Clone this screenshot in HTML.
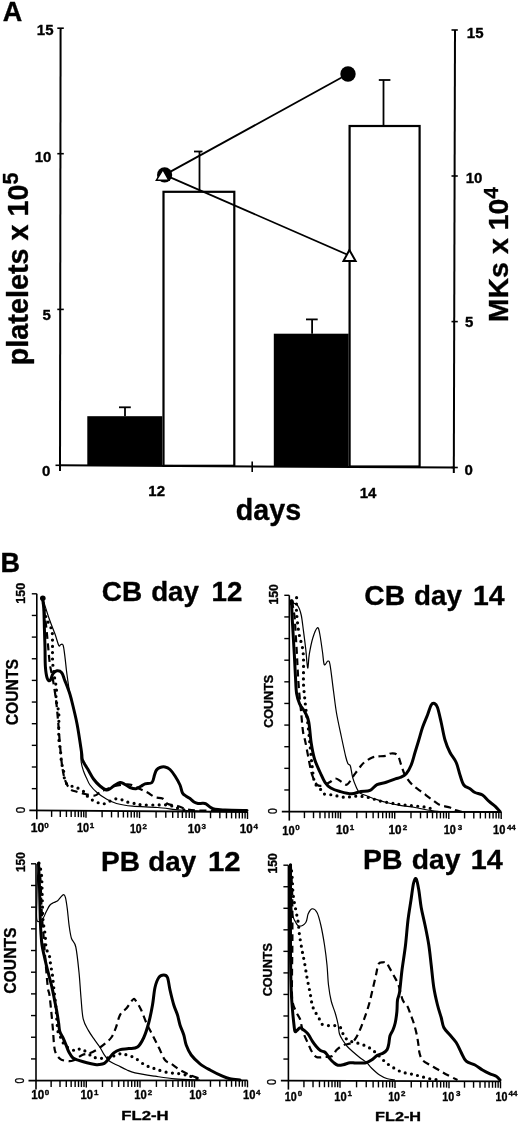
<!DOCTYPE html>
<html><head><meta charset="utf-8"><style>
html,body{margin:0;padding:0;background:#fff;}
body{width:520px;height:1124px;overflow:hidden;}
svg{display:block;will-change:transform;}
</style></head><body>
<svg width="520" height="1124" viewBox="0 0 520 1124" font-family='"Liberation Sans", sans-serif' font-weight="bold" fill="#000" stroke="#000">
<g stroke="none">
</g>
<text stroke="#000" stroke-width="0.35" stroke-linejoin="round" x="2.63" y="20.70" font-size="27">A</text>
<line x1="60.6" y1="28" x2="60.0" y2="471" stroke-width="2.0"/>
<line x1="57.3" y1="28.2" x2="63.8" y2="28.2" stroke-width="1.6"/>
<line x1="57.3" y1="153.7" x2="63.8" y2="153.7" stroke-width="1.6"/>
<line x1="57.3" y1="309.4" x2="63.8" y2="309.4" stroke-width="1.6"/>
<line x1="55.5" y1="465.3" x2="60.5" y2="465.3" stroke-width="1.6"/>
<text stroke="#000" stroke-width="0.35" stroke-linejoin="round" x="36.8" y="35.3" font-size="15" text-anchor="start" >15</text>
<text stroke="#000" stroke-width="0.35" stroke-linejoin="round" x="34.7" y="162.2" font-size="15" text-anchor="start" >10</text>
<text stroke="#000" stroke-width="0.35" stroke-linejoin="round" x="42.4" y="319.8" font-size="15" text-anchor="start" >5</text>
<text stroke="#000" stroke-width="0.35" stroke-linejoin="round" x="41.9" y="475.6" font-size="15" text-anchor="start" >0</text>
<line x1="455.0" y1="30" x2="453.8" y2="473" stroke-width="2.0"/>
<line x1="451.5" y1="30.0" x2="457.8" y2="30.0" stroke-width="1.6"/>
<line x1="451.5" y1="176.0" x2="457.8" y2="176.0" stroke-width="1.6"/>
<line x1="451.5" y1="321.6" x2="457.8" y2="321.6" stroke-width="1.6"/>
<line x1="451.5" y1="467.5" x2="457.8" y2="467.5" stroke-width="1.6"/>
<text stroke="#000" stroke-width="0.35" stroke-linejoin="round" x="466.8" y="37.5" font-size="15" text-anchor="start" >15</text>
<text stroke="#000" stroke-width="0.35" stroke-linejoin="round" x="465.7" y="182.8" font-size="15" text-anchor="start" >10</text>
<text stroke="#000" stroke-width="0.35" stroke-linejoin="round" x="464.9" y="327.2" font-size="15" text-anchor="start" >5</text>
<text stroke="#000" stroke-width="0.35" stroke-linejoin="round" x="464.4" y="474.6" font-size="15" text-anchor="start" >0</text>
<line x1="59.5" y1="465.3" x2="454.5" y2="467.6" stroke-width="2.0"/>
<line x1="252.2" y1="461.5" x2="252.2" y2="472" stroke-width="1.6"/>
<rect x="87.3" y="416.2" width="75" height="49.6" fill="#000" stroke="none"/>
<rect x="273.8" y="333.7" width="74.8" height="132.5" fill="#000" stroke="none"/>
<rect x="163.5" y="191.8" width="70.8" height="274" fill="none" stroke-width="2.2"/>
<rect x="349.6" y="126" width="70" height="340.5" fill="none" stroke-width="2.2"/>
<line x1="125" y1="407.3" x2="125" y2="416.2" stroke-width="1.8"/>
<line x1="119" y1="407.3" x2="130.8" y2="407.3" stroke-width="1.8"/>
<line x1="199.5" y1="151.5" x2="199.5" y2="191" stroke-width="1.8"/>
<line x1="194" y1="151.5" x2="202.5" y2="151.5" stroke-width="1.8"/>
<line x1="312.1" y1="319.4" x2="312.1" y2="333.7" stroke-width="1.8"/>
<line x1="306" y1="319.4" x2="317.7" y2="319.4" stroke-width="1.8"/>
<line x1="383.5" y1="80" x2="383.5" y2="125" stroke-width="1.8"/>
<line x1="378.8" y1="80" x2="390.4" y2="80" stroke-width="1.8"/>
<line x1="164.6" y1="174.9" x2="348" y2="74" stroke-width="1.8"/>
<line x1="164.6" y1="174.9" x2="349.4" y2="255.5" stroke-width="1.8"/>
<circle cx="348" cy="74" r="7.7" fill="#000" stroke="none"/>
<circle cx="164.6" cy="174.9" r="7.6" fill="#000" stroke="none"/>
<polygon points="162.9,169.6 156.4,180.2 168.8,180.2" fill="#fff" stroke-width="1.5" stroke-linejoin="miter"/>
<polygon points="349.4,250 343.5,261 355.6,261" fill="#fff" stroke-width="2" stroke-linejoin="miter"/>
<text stroke="#000" stroke-width="0.35" stroke-linejoin="round" x="148.3" y="495.8" font-size="15" text-anchor="start" >12</text>
<text stroke="#000" stroke-width="0.35" stroke-linejoin="round" x="359.7" y="497.5" font-size="15" text-anchor="start" >14</text>
<text stroke="#000" stroke-width="0.35" stroke-linejoin="round" x="235.82" y="519.70" font-size="29" textLength="65.35" lengthAdjust="spacingAndGlyphs">days</text>
<text stroke="#000" stroke-width="0.35" stroke-linejoin="round" transform="translate(28.4,365.2) rotate(-90)" font-size="28.75">platelets x 10<tspan font-size="21.5" dy="-10.3">5</tspan></text>
<text stroke="#000" stroke-width="0.35" stroke-linejoin="round" transform="translate(508,322.2) rotate(-90)" font-size="28.5">MKs x 10<tspan font-size="21" dy="-10.3">4</tspan></text>
<text stroke="#000" stroke-width="0.35" stroke-linejoin="round" x="0.49" y="572.00" font-size="27">B</text>
<line x1="36.8" y1="593.8" x2="36.8" y2="819.3" stroke-width="1.6"/>
<line x1="31.799999999999997" y1="593.8" x2="36.8" y2="593.8" stroke-width="1.4"/>
<line x1="31.799999999999997" y1="615.4499999999999" x2="36.8" y2="615.4499999999999" stroke-width="1.4"/>
<line x1="31.799999999999997" y1="637.0999999999999" x2="36.8" y2="637.0999999999999" stroke-width="1.4"/>
<line x1="31.799999999999997" y1="658.75" x2="36.8" y2="658.75" stroke-width="1.4"/>
<line x1="31.799999999999997" y1="680.4" x2="36.8" y2="680.4" stroke-width="1.4"/>
<line x1="31.799999999999997" y1="702.05" x2="36.8" y2="702.05" stroke-width="1.4"/>
<line x1="31.799999999999997" y1="723.6999999999999" x2="36.8" y2="723.6999999999999" stroke-width="1.4"/>
<line x1="31.799999999999997" y1="745.3499999999999" x2="36.8" y2="745.3499999999999" stroke-width="1.4"/>
<line x1="31.799999999999997" y1="767.0" x2="36.8" y2="767.0" stroke-width="1.4"/>
<line x1="31.799999999999997" y1="788.65" x2="36.8" y2="788.65" stroke-width="1.4"/>
<line x1="29.299999999999997" y1="810.3" x2="247.5" y2="812" stroke-width="1.8"/>
<line x1="86" y1="810.6969625059326" x2="86" y2="817.6969625059326" stroke-width="1.4"/>
<line x1="102.105104768023" y1="810.826904025181" x2="102.105104768023" y2="817.326904025181" stroke-width="1.4"/>
<line x1="111.52598712750193" y1="810.902914941228" x2="111.52598712750193" y2="817.402914941228" stroke-width="1.4"/>
<line x1="118.210209536046" y1="810.9568455444294" x2="118.210209536046" y2="817.4568455444294" stroke-width="1.4"/>
<line x1="123.39489523197702" y1="810.9986773701678" x2="123.39489523197702" y2="817.4986773701678" stroke-width="1.4"/>
<line x1="127.63109189552493" y1="811.0328564604764" x2="127.63109189552493" y2="817.5328564604764" stroke-width="1.4"/>
<line x1="131.21274514076273" y1="811.0617544695742" x2="131.21274514076273" y2="817.5617544695742" stroke-width="1.4"/>
<line x1="134.31531430406898" y1="811.0867870636778" x2="134.31531430406898" y2="817.5867870636778" stroke-width="1.4"/>
<line x1="137.05197425500387" y1="811.1088673765234" x2="137.05197425500387" y2="817.6088673765234" stroke-width="1.4"/>
<line x1="139.5" y1="811.1286188894162" x2="139.5" y2="818.1286188894162" stroke-width="1.4"/>
<line x1="156.08675276108536" y1="811.2624465101749" x2="156.08675276108536" y2="817.7624465101749" stroke-width="1.4"/>
<line x1="165.7893811350534" y1="811.3407306498793" x2="165.7893811350534" y2="817.8407306498793" stroke-width="1.4"/>
<line x1="172.67350552217073" y1="811.3962741309335" x2="172.67350552217073" y2="817.8962741309335" stroke-width="1.4"/>
<line x1="178.01324723891463" y1="811.4393570019276" x2="178.01324723891463" y2="817.9393570019276" stroke-width="1.4"/>
<line x1="182.37613389613875" y1="811.474558270638" x2="182.37613389613875" y2="817.974558270638" stroke-width="1.4"/>
<line x1="186.06490200478555" y1="811.5043205192602" x2="186.06490200478555" y2="818.0043205192602" stroke-width="1.4"/>
<line x1="189.2602582832561" y1="811.5301017516921" x2="189.2602582832561" y2="818.0301017516921" stroke-width="1.4"/>
<line x1="192.07876227010678" y1="811.5528424103426" x2="192.07876227010678" y2="818.0528424103426" stroke-width="1.4"/>
<line x1="194.6" y1="811.5731846226863" x2="194.6" y2="818.5731846226863" stroke-width="1.4"/>
<line x1="210.5244867706246" y1="811.7016688538683" x2="210.5244867706246" y2="818.2016688538683" stroke-width="1.4"/>
<line x1="219.83971437467014" y1="811.7768273110438" x2="219.83971437467014" y2="818.2768273110438" stroke-width="1.4"/>
<line x1="226.44897354124922" y1="811.8301530850504" x2="226.44897354124922" y2="818.3301530850504" stroke-width="1.4"/>
<line x1="231.5755132293754" y1="811.871515768818" x2="231.5755132293754" y2="818.371515768818" stroke-width="1.4"/>
<line x1="235.76420114529475" y1="811.905311542226" x2="235.76420114529475" y2="818.405311542226" stroke-width="1.4"/>
<line x1="239.3056863167542" y1="811.9338854615021" x2="239.3056863167542" y2="818.4338854615021" stroke-width="1.4"/>
<line x1="242.37346031187383" y1="811.9586373162325" x2="242.37346031187383" y2="818.4586373162325" stroke-width="1.4"/>
<line x1="245.07942874934028" y1="811.9804699994014" x2="245.07942874934028" y2="818.4804699994014" stroke-width="1.4"/>
<line x1="247.5" y1="812.0" x2="247.5" y2="819.0" stroke-width="1.4"/>
<line x1="51.61067578666787" y1="810.4194976214396" x2="51.61067578666787" y2="816.9194976214396" stroke-width="1.4"/>
<line x1="60.274365732207386" y1="810.4893992489071" x2="60.274365732207386" y2="816.9893992489071" stroke-width="1.4"/>
<line x1="66.42135157333576" y1="810.5389952428793" x2="66.42135157333576" y2="817.0389952428793" stroke-width="1.4"/>
<line x1="71.18932421333213" y1="810.5774648844929" x2="71.18932421333213" y2="817.0774648844929" stroke-width="1.4"/>
<line x1="75.08504151887527" y1="810.6088968703468" x2="75.08504151887527" y2="817.1088968703468" stroke-width="1.4"/>
<line x1="78.37882356870143" y1="810.6354722357228" x2="78.37882356870143" y2="817.1354722357228" stroke-width="1.4"/>
<line x1="81.23202736000363" y1="810.658492864319" x2="81.23202736000363" y2="817.158492864319" stroke-width="1.4"/>
<line x1="83.74873146441479" y1="810.6787984978145" x2="83.74873146441479" y2="817.1787984978145" stroke-width="1.4"/>
<text stroke="#000" stroke-width="0.35" stroke-linejoin="round" transform="translate(25.48,603.79) rotate(-90)" font-size="12.5" textLength="20.90" lengthAdjust="spacingAndGlyphs">150</text>
<text stroke="#000" stroke-width="0.35" stroke-linejoin="round" transform="translate(25.28,813.25) rotate(-90)" font-size="12" textLength="6.40" lengthAdjust="spacingAndGlyphs" font-weight="normal">0</text>
<text stroke="#000" stroke-width="0.35" stroke-linejoin="round" transform="translate(17.64,725.24) rotate(-90)" font-size="16" textLength="66.15" lengthAdjust="spacingAndGlyphs">COUNTS</text>
<text stroke="#000" stroke-width="0.35" stroke-linejoin="round" x="30.74" y="832.00" font-size="12" textLength="13.46" lengthAdjust="spacingAndGlyphs">10</text>
<text stroke="#000" stroke-width="0.35" stroke-linejoin="round" x="44.18" y="827.90" font-size="8">0</text>
<text stroke="#000" stroke-width="0.35" stroke-linejoin="round" x="76.91" y="832.30" font-size="12" textLength="12.13" lengthAdjust="spacingAndGlyphs">10</text>
<text stroke="#000" stroke-width="0.35" stroke-linejoin="round" x="89.70" y="828.20" font-size="8">1</text>
<text stroke="#000" stroke-width="0.35" stroke-linejoin="round" x="130.04" y="833.20" font-size="12" textLength="11.69" lengthAdjust="spacingAndGlyphs">10</text>
<text stroke="#000" stroke-width="0.35" stroke-linejoin="round" x="142.42" y="829.10" font-size="8">2</text>
<text stroke="#000" stroke-width="0.35" stroke-linejoin="round" x="187.87" y="833.20" font-size="12" textLength="12.91" lengthAdjust="spacingAndGlyphs">10</text>
<text stroke="#000" stroke-width="0.35" stroke-linejoin="round" x="201.42" y="829.10" font-size="8">3</text>
<text stroke="#000" stroke-width="0.35" stroke-linejoin="round" x="239.87" y="833.40" font-size="12" textLength="12.91" lengthAdjust="spacingAndGlyphs">10</text>
<text stroke="#000" stroke-width="0.35" stroke-linejoin="round" x="253.48" y="829.30" font-size="8">4</text>
<text stroke="#000" stroke-width="0.35" stroke-linejoin="round" x="101.85" y="600.80" font-size="27.5" textLength="40.42" lengthAdjust="spacingAndGlyphs">CB</text>
<text stroke="#000" stroke-width="0.35" stroke-linejoin="round" x="151.16" y="600.80" font-size="27.5" textLength="47.79" lengthAdjust="spacingAndGlyphs">day</text>
<text stroke="#000" stroke-width="0.35" stroke-linejoin="round" x="211.55" y="600.80" font-size="27.5" textLength="30.86" lengthAdjust="spacingAndGlyphs">12</text>
<line x1="289.3" y1="595.3" x2="289.3" y2="820.6" stroke-width="1.6"/>
<line x1="284.3" y1="595.3" x2="289.3" y2="595.3" stroke-width="1.4"/>
<line x1="284.3" y1="616.93" x2="289.3" y2="616.93" stroke-width="1.4"/>
<line x1="284.3" y1="638.56" x2="289.3" y2="638.56" stroke-width="1.4"/>
<line x1="284.3" y1="660.1899999999999" x2="289.3" y2="660.1899999999999" stroke-width="1.4"/>
<line x1="284.3" y1="681.8199999999999" x2="289.3" y2="681.8199999999999" stroke-width="1.4"/>
<line x1="284.3" y1="703.45" x2="289.3" y2="703.45" stroke-width="1.4"/>
<line x1="284.3" y1="725.0799999999999" x2="289.3" y2="725.0799999999999" stroke-width="1.4"/>
<line x1="284.3" y1="746.71" x2="289.3" y2="746.71" stroke-width="1.4"/>
<line x1="284.3" y1="768.34" x2="289.3" y2="768.34" stroke-width="1.4"/>
<line x1="284.3" y1="789.97" x2="289.3" y2="789.97" stroke-width="1.4"/>
<line x1="281.8" y1="811.6" x2="501.2" y2="812.0" stroke-width="1.8"/>
<line x1="340.5" y1="811.696649362907" x2="340.5" y2="818.696649362907" stroke-width="1.4"/>
<line x1="356.8158257649878" y1="811.7274484677017" x2="356.8158257649878" y2="818.2274484677017" stroke-width="1.4"/>
<line x1="366.3599720058057" y1="811.7454647890625" x2="366.3599720058057" y2="818.2454647890625" stroke-width="1.4"/>
<line x1="373.13165152997556" y1="811.7582475724964" x2="373.13165152997556" y2="818.2582475724964" stroke-width="1.4"/>
<line x1="378.3841742350122" y1="811.7681626696273" x2="378.3841742350122" y2="818.2681626696273" stroke-width="1.4"/>
<line x1="382.67579777079345" y1="811.776263893857" x2="382.67579777079345" y2="818.276263893857" stroke-width="1.4"/>
<line x1="386.3043137687727" y1="811.7831133813473" x2="386.3043137687727" y2="818.2831133813473" stroke-width="1.4"/>
<line x1="389.44747729496333" y1="811.7890466772911" x2="389.44747729496333" y2="818.2890466772911" stroke-width="1.4"/>
<line x1="392.2199440116114" y1="811.7942802152178" x2="392.2199440116114" y2="818.2942802152178" stroke-width="1.4"/>
<line x1="394.7" y1="811.7989617744219" x2="394.7" y2="818.7989617744219" stroke-width="1.4"/>
<line x1="410.9857227654214" y1="811.8297040543" x2="410.9857227654214" y2="818.3297040543" stroke-width="1.4"/>
<line x1="420.5122598803337" y1="811.8476871352153" x2="420.5122598803337" y2="818.3476871352153" stroke-width="1.4"/>
<line x1="427.27144553084275" y1="811.860446334178" x2="427.27144553084275" y2="818.360446334178" stroke-width="1.4"/>
<line x1="432.5142772345786" y1="811.8703431377718" x2="432.5142772345786" y2="818.3703431377718" stroke-width="1.4"/>
<line x1="436.79798264575516" y1="811.8784294150935" x2="436.79798264575516" y2="818.3784294150935" stroke-width="1.4"/>
<line x1="440.4198039647713" y1="811.885266265153" x2="440.4198039647713" y2="818.385266265153" stroke-width="1.4"/>
<line x1="443.55716829626414" y1="811.8911886140562" x2="443.55716829626414" y2="818.3911886140562" stroke-width="1.4"/>
<line x1="446.3245197606675" y1="811.8964124960088" x2="446.3245197606675" y2="818.3964124960088" stroke-width="1.4"/>
<line x1="448.8" y1="811.9010854176498" x2="448.8" y2="818.9010854176498" stroke-width="1.4"/>
<line x1="464.5739717727926" y1="811.9308616739459" x2="464.5739717727926" y2="818.4308616739459" stroke-width="1.4"/>
<line x1="473.8011537473103" y1="811.9482796672909" x2="473.8011537473103" y2="818.4482796672909" stroke-width="1.4"/>
<line x1="480.3479435455852" y1="811.9606379302418" x2="480.3479435455852" y2="818.4606379302418" stroke-width="1.4"/>
<line x1="485.4260282272074" y1="811.9702237437041" x2="485.4260282272074" y2="818.4702237437041" stroke-width="1.4"/>
<line x1="489.5751255201029" y1="811.9780559235868" x2="489.5751255201029" y2="818.4780559235868" stroke-width="1.4"/>
<line x1="493.08313729674705" y1="811.9846779373228" x2="493.08313729674705" y2="818.4846779373228" stroke-width="1.4"/>
<line x1="496.12191531837783" y1="811.9904141865378" x2="496.12191531837783" y2="818.4904141865378" stroke-width="1.4"/>
<line x1="498.8023074946206" y1="811.9954739169318" x2="498.8023074946206" y2="818.4954739169318" stroke-width="1.4"/>
<line x1="501.2" y1="812.0" x2="501.2" y2="819.0" stroke-width="1.4"/>
<line x1="304.4331477762614" y1="811.6285665838155" x2="304.4331477762614" y2="818.1285665838155" stroke-width="1.4"/>
<line x1="313.5194567435346" y1="811.645718653598" x2="313.5194567435346" y2="818.145718653598" stroke-width="1.4"/>
<line x1="319.96629555252287" y1="811.6578882407787" x2="319.96629555252287" y2="818.1578882407787" stroke-width="1.4"/>
<line x1="324.96685222373856" y1="811.6673277059439" x2="324.96685222373856" y2="818.1673277059439" stroke-width="1.4"/>
<line x1="329.052604519796" y1="811.6750403105613" x2="329.052604519796" y2="818.1750403105613" stroke-width="1.4"/>
<line x1="332.50705886473565" y1="811.6815612248508" x2="332.50705886473565" y2="818.1815612248508" stroke-width="1.4"/>
<line x1="335.4994433287843" y1="811.6872098977419" x2="335.4994433287843" y2="818.1872098977419" stroke-width="1.4"/>
<line x1="338.13891348706915" y1="811.6921923803437" x2="338.13891348706915" y2="818.1921923803437" stroke-width="1.4"/>
<text stroke="#000" stroke-width="0.35" stroke-linejoin="round" transform="translate(278.38,604.57) rotate(-90)" font-size="12.5" textLength="20.48" lengthAdjust="spacingAndGlyphs">150</text>
<text stroke="#000" stroke-width="0.35" stroke-linejoin="round" transform="translate(277.18,813.91) rotate(-90)" font-size="12" textLength="5.82" lengthAdjust="spacingAndGlyphs" font-weight="normal">0</text>
<text stroke="#000" stroke-width="0.35" stroke-linejoin="round" transform="translate(273.07,727.81) rotate(-90)" font-size="13" textLength="53.01" lengthAdjust="spacingAndGlyphs">COUNTS</text>
<text stroke="#000" stroke-width="0.35" stroke-linejoin="round" x="282.30" y="834.50" font-size="12" textLength="12.36" lengthAdjust="spacingAndGlyphs">10</text>
<text stroke="#000" stroke-width="0.35" stroke-linejoin="round" x="295.18" y="830.40" font-size="8">0</text>
<text stroke="#000" stroke-width="0.35" stroke-linejoin="round" x="335.97" y="834.20" font-size="12" textLength="12.91" lengthAdjust="spacingAndGlyphs">10</text>
<text stroke="#000" stroke-width="0.35" stroke-linejoin="round" x="349.80" y="830.10" font-size="8">1</text>
<text stroke="#000" stroke-width="0.35" stroke-linejoin="round" x="388.46" y="834.00" font-size="12" textLength="13.02" lengthAdjust="spacingAndGlyphs">10</text>
<text stroke="#000" stroke-width="0.35" stroke-linejoin="round" x="402.72" y="829.90" font-size="8">2</text>
<text stroke="#000" stroke-width="0.35" stroke-linejoin="round" x="443.81" y="833.80" font-size="12" textLength="12.13" lengthAdjust="spacingAndGlyphs">10</text>
<text stroke="#000" stroke-width="0.35" stroke-linejoin="round" x="457.82" y="829.70" font-size="8">3</text>
<text stroke="#000" stroke-width="0.35" stroke-linejoin="round" x="493.10" y="833.80" font-size="12" textLength="12.36" lengthAdjust="spacingAndGlyphs">10</text>
<text stroke="#000" stroke-width="0.35" stroke-linejoin="round" x="506.88" y="829.70" font-size="8">44</text>
<text stroke="#000" stroke-width="0.35" stroke-linejoin="round" x="364.34" y="605.00" font-size="27.5" textLength="40.84" lengthAdjust="spacingAndGlyphs">CB</text>
<text stroke="#000" stroke-width="0.35" stroke-linejoin="round" x="414.06" y="605.00" font-size="27.5" textLength="47.79" lengthAdjust="spacingAndGlyphs">day</text>
<text stroke="#000" stroke-width="0.35" stroke-linejoin="round" x="473.01" y="605.00" font-size="27.5" textLength="31.54" lengthAdjust="spacingAndGlyphs">14</text>
<line x1="36" y1="863.8" x2="36" y2="1089.6" stroke-width="1.6"/>
<line x1="31" y1="863.8" x2="36" y2="863.8" stroke-width="1.4"/>
<line x1="31" y1="885.4799999999999" x2="36" y2="885.4799999999999" stroke-width="1.4"/>
<line x1="31" y1="907.16" x2="36" y2="907.16" stroke-width="1.4"/>
<line x1="31" y1="928.8399999999999" x2="36" y2="928.8399999999999" stroke-width="1.4"/>
<line x1="31" y1="950.52" x2="36" y2="950.52" stroke-width="1.4"/>
<line x1="31" y1="972.1999999999999" x2="36" y2="972.1999999999999" stroke-width="1.4"/>
<line x1="31" y1="993.8799999999999" x2="36" y2="993.8799999999999" stroke-width="1.4"/>
<line x1="31" y1="1015.56" x2="36" y2="1015.56" stroke-width="1.4"/>
<line x1="31" y1="1037.24" x2="36" y2="1037.24" stroke-width="1.4"/>
<line x1="31" y1="1058.9199999999998" x2="36" y2="1058.9199999999998" stroke-width="1.4"/>
<line x1="28.5" y1="1080.6" x2="247.5" y2="1080.3" stroke-width="1.8"/>
<line x1="86.3" y1="1080.5286524822695" x2="86.3" y2="1087.5286524822695" stroke-width="1.4"/>
<line x1="102.46531076715578" y1="1080.5057229634508" x2="102.46531076715578" y2="1087.0057229634508" stroke-width="1.4"/>
<line x1="111.92141137844587" y1="1080.4923100547824" x2="111.92141137844587" y2="1086.9923100547824" stroke-width="1.4"/>
<line x1="118.63062153431159" y1="1080.482793444632" x2="118.63062153431159" y2="1086.982793444632" stroke-width="1.4"/>
<line x1="123.83468923284421" y1="1080.4754117883222" x2="123.83468923284421" y2="1086.9754117883222" stroke-width="1.4"/>
<line x1="128.08672214560167" y1="1080.4693805359636" x2="128.08672214560167" y2="1086.9693805359636" stroke-width="1.4"/>
<line x1="131.6817647487656" y1="1080.4642811847534" x2="131.6817647487656" y2="1086.9642811847534" stroke-width="1.4"/>
<line x1="134.79593230146736" y1="1080.4598639258134" x2="134.79593230146736" y2="1086.9598639258134" stroke-width="1.4"/>
<line x1="137.54282275689175" y1="1080.4559676272952" x2="137.54282275689175" y2="1086.9559676272952" stroke-width="1.4"/>
<line x1="140" y1="1080.4524822695034" x2="140" y2="1087.4524822695034" stroke-width="1.4"/>
<line x1="156.40613476368696" y1="1080.4292111563634" x2="156.40613476368696" y2="1086.9292111563634" stroke-width="1.4"/>
<line x1="166.0031083822216" y1="1080.4155984278266" x2="166.0031083822216" y2="1086.9155984278266" stroke-width="1.4"/>
<line x1="172.81226952737396" y1="1080.4059400432236" x2="172.81226952737396" y2="1086.9059400432236" stroke-width="1.4"/>
<line x1="178.09386523631304" y1="1080.3984484181044" x2="178.09386523631304" y2="1086.8984484181044" stroke-width="1.4"/>
<line x1="182.4092431459086" y1="1080.3923273146866" x2="182.4092431459086" y2="1086.8923273146866" stroke-width="1.4"/>
<line x1="186.057843180777" y1="1080.3871519954882" x2="186.057843180777" y2="1086.8871519954882" stroke-width="1.4"/>
<line x1="189.21840429106092" y1="1080.3826689300836" x2="189.21840429106092" y2="1086.8826689300836" stroke-width="1.4"/>
<line x1="192.0062167644432" y1="1080.3787145861497" x2="192.0062167644432" y2="1086.8787145861497" stroke-width="1.4"/>
<line x1="194.5" y1="1080.3751773049644" x2="194.5" y2="1087.3751773049644" stroke-width="1.4"/>
<line x1="210.454589770191" y1="1080.352546681177" x2="210.454589770191" y2="1086.852546681177" stroke-width="1.4"/>
<line x1="219.78742650014212" y1="1080.3393086148933" x2="219.78742650014212" y2="1086.8393086148933" stroke-width="1.4"/>
<line x1="226.409179540382" y1="1080.3299160573895" x2="226.409179540382" y2="1086.8299160573895" stroke-width="1.4"/>
<line x1="231.545410229809" y1="1080.3226306237875" x2="231.545410229809" y2="1086.8226306237875" stroke-width="1.4"/>
<line x1="235.74201627033312" y1="1080.316677991106" x2="235.74201627033312" y2="1086.816677991106" stroke-width="1.4"/>
<line x1="239.2901961207556" y1="1080.3116451118854" x2="239.2901961207556" y2="1086.8116451118854" stroke-width="1.4"/>
<line x1="242.363769310573" y1="1080.307285433602" x2="242.363769310573" y2="1086.807285433602" stroke-width="1.4"/>
<line x1="245.07485300028424" y1="1080.3034399248222" x2="245.07485300028424" y2="1086.8034399248222" stroke-width="1.4"/>
<line x1="247.5" y1="1080.3" x2="247.5" y2="1087.3" stroke-width="1.4"/>
<line x1="51.141808781898256" y1="1080.5785222570469" x2="51.141808781898256" y2="1087.0785222570469" stroke-width="1.4"/>
<line x1="59.99919911239902" y1="1080.5659585828191" x2="59.99919911239902" y2="1087.0659585828191" stroke-width="1.4"/>
<line x1="66.28361756379651" y1="1080.5570445140938" x2="66.28361756379651" y2="1087.0570445140938" stroke-width="1.4"/>
<line x1="71.15819121810175" y1="1080.5501302252226" x2="71.15819121810175" y2="1087.0501302252226" stroke-width="1.4"/>
<line x1="75.14100789429727" y1="1080.544480839866" x2="75.14100789429727" y2="1087.044480839866" stroke-width="1.4"/>
<line x1="78.50843141271712" y1="1080.539704352606" x2="78.50843141271712" y2="1087.039704352606" stroke-width="1.4"/>
<line x1="81.42542634569476" y1="1080.5355667711408" x2="81.42542634569476" y2="1087.0355667711408" stroke-width="1.4"/>
<line x1="83.99839822479804" y1="1080.5319171656386" x2="83.99839822479804" y2="1087.0319171656386" stroke-width="1.4"/>
<text stroke="#000" stroke-width="0.35" stroke-linejoin="round" transform="translate(25.38,872.05) rotate(-90)" font-size="12.5" textLength="19.94" lengthAdjust="spacingAndGlyphs">150</text>
<text stroke="#000" stroke-width="0.35" stroke-linejoin="round" transform="translate(23.68,1083.50) rotate(-90)" font-size="12" textLength="5.70" lengthAdjust="spacingAndGlyphs" font-weight="normal">0</text>
<text stroke="#000" stroke-width="0.35" stroke-linejoin="round" transform="translate(16.34,993.74) rotate(-90)" font-size="16" textLength="66.26" lengthAdjust="spacingAndGlyphs">COUNTS</text>
<text stroke="#000" stroke-width="0.35" stroke-linejoin="round" x="31.27" y="1098.80" font-size="12" textLength="12.91" lengthAdjust="spacingAndGlyphs">10</text>
<text stroke="#000" stroke-width="0.35" stroke-linejoin="round" x="44.68" y="1094.70" font-size="8">0</text>
<text stroke="#000" stroke-width="0.35" stroke-linejoin="round" x="80.49" y="1098.80" font-size="12" textLength="12.47" lengthAdjust="spacingAndGlyphs">10</text>
<text stroke="#000" stroke-width="0.35" stroke-linejoin="round" x="94.00" y="1094.70" font-size="8">1</text>
<text stroke="#000" stroke-width="0.35" stroke-linejoin="round" x="134.29" y="1099.00" font-size="12" textLength="12.47" lengthAdjust="spacingAndGlyphs">10</text>
<text stroke="#000" stroke-width="0.35" stroke-linejoin="round" x="147.72" y="1094.90" font-size="8">2</text>
<text stroke="#000" stroke-width="0.35" stroke-linejoin="round" x="189.30" y="1099.00" font-size="12" textLength="12.36" lengthAdjust="spacingAndGlyphs">10</text>
<text stroke="#000" stroke-width="0.35" stroke-linejoin="round" x="202.32" y="1094.90" font-size="8">3</text>
<text stroke="#000" stroke-width="0.35" stroke-linejoin="round" x="242.99" y="1099.00" font-size="12" textLength="12.47" lengthAdjust="spacingAndGlyphs">10</text>
<text stroke="#000" stroke-width="0.35" stroke-linejoin="round" x="256.08" y="1094.90" font-size="8">4</text>
<text stroke="#000" stroke-width="0.35" stroke-linejoin="round" x="101.12" y="871.30" font-size="27.5" textLength="38.95" lengthAdjust="spacingAndGlyphs">PB</text>
<text stroke="#000" stroke-width="0.35" stroke-linejoin="round" x="148.36" y="871.30" font-size="27.5" textLength="47.79" lengthAdjust="spacingAndGlyphs">day</text>
<text stroke="#000" stroke-width="0.35" stroke-linejoin="round" x="207.95" y="871.30" font-size="27.5" textLength="32.62" lengthAdjust="spacingAndGlyphs">12</text>
<text stroke="#000" stroke-width="0.35" stroke-linejoin="round" x="121.18" y="1120.00" font-size="13.5" textLength="47.45" lengthAdjust="spacingAndGlyphs">FL2-H</text>
<line x1="288.4" y1="865.2" x2="288.4" y2="1089.6" stroke-width="1.6"/>
<line x1="283.4" y1="865.2" x2="288.4" y2="865.2" stroke-width="1.4"/>
<line x1="283.4" y1="886.74" x2="288.4" y2="886.74" stroke-width="1.4"/>
<line x1="283.4" y1="908.28" x2="288.4" y2="908.28" stroke-width="1.4"/>
<line x1="283.4" y1="929.8199999999999" x2="288.4" y2="929.8199999999999" stroke-width="1.4"/>
<line x1="283.4" y1="951.36" x2="288.4" y2="951.36" stroke-width="1.4"/>
<line x1="283.4" y1="972.9" x2="288.4" y2="972.9" stroke-width="1.4"/>
<line x1="283.4" y1="994.4399999999999" x2="288.4" y2="994.4399999999999" stroke-width="1.4"/>
<line x1="283.4" y1="1015.9799999999999" x2="288.4" y2="1015.9799999999999" stroke-width="1.4"/>
<line x1="283.4" y1="1037.52" x2="288.4" y2="1037.52" stroke-width="1.4"/>
<line x1="283.4" y1="1059.06" x2="288.4" y2="1059.06" stroke-width="1.4"/>
<line x1="280.9" y1="1080.6" x2="500.5" y2="1081.3" stroke-width="1.8"/>
<line x1="340" y1="1080.770297029703" x2="340" y2="1087.770297029703" stroke-width="1.4"/>
<line x1="356.55664976151894" y1="1080.8249394381567" x2="356.55664976151894" y2="1087.3249394381567" stroke-width="1.4"/>
<line x1="366.2416690095814" y1="1080.8569031980514" x2="366.2416690095814" y2="1087.3569031980514" stroke-width="1.4"/>
<line x1="373.11329952303794" y1="1080.8795818466106" x2="373.11329952303794" y2="1087.3795818466106" stroke-width="1.4"/>
<line x1="378.44335023848106" y1="1080.8971727730643" x2="378.44335023848106" y2="1087.3971727730643" stroke-width="1.4"/>
<line x1="382.7983187711004" y1="1080.9115456065051" x2="382.7983187711004" y2="1087.4115456065051" stroke-width="1.4"/>
<line x1="386.48039220078414" y1="1080.9236976640289" x2="386.48039220078414" y2="1087.4236976640289" stroke-width="1.4"/>
<line x1="389.6699492845569" y1="1080.9342242550645" x2="389.6699492845569" y2="1087.4342242550645" stroke-width="1.4"/>
<line x1="392.4833380191629" y1="1080.9435093664" x2="392.4833380191629" y2="1087.4435093664" stroke-width="1.4"/>
<line x1="395" y1="1080.951815181518" x2="395" y2="1087.951815181518" stroke-width="1.4"/>
<line x1="411.255619765855" y1="1081.0054640916364" x2="411.255619765855" y2="1087.5054640916364" stroke-width="1.4"/>
<line x1="420.7645477548618" y1="1081.0368466922603" x2="420.7645477548618" y2="1087.5368466922603" stroke-width="1.4"/>
<line x1="427.51123953171" y1="1081.0591130017547" x2="427.51123953171" y2="1087.5591130017547" stroke-width="1.4"/>
<line x1="432.744380234145" y1="1081.076384093182" x2="432.744380234145" y2="1087.576384093182" stroke-width="1.4"/>
<line x1="437.02016752071677" y1="1081.0904956023785" x2="437.02016752071677" y2="1087.5904956023785" stroke-width="1.4"/>
<line x1="440.6352941607699" y1="1081.1024267134019" x2="440.6352941607699" y2="1087.6024267134019" stroke-width="1.4"/>
<line x1="443.76685929756496" y1="1081.1127619118731" x2="443.76685929756496" y2="1087.6127619118731" stroke-width="1.4"/>
<line x1="446.52909550972356" y1="1081.1218782030023" x2="446.52909550972356" y2="1087.6218782030023" stroke-width="1.4"/>
<line x1="449" y1="1081.1300330033002" x2="449" y2="1088.1300330033002" stroke-width="1.4"/>
<line x1="464.50304477669505" y1="1081.1811981675799" x2="464.50304477669505" y2="1087.6811981675799" stroke-width="1.4"/>
<line x1="473.5717446180626" y1="1081.2111278700265" x2="473.5717446180626" y2="1087.7111278700265" stroke-width="1.4"/>
<line x1="480.00608955339004" y1="1081.2323633318592" x2="480.00608955339004" y2="1087.7323633318592" stroke-width="1.4"/>
<line x1="484.99695522330495" y1="1081.2488348357203" x2="484.99695522330495" y2="1087.7488348357203" stroke-width="1.4"/>
<line x1="489.07478939475766" y1="1081.2622930343061" x2="489.07478939475766" y2="1087.7622930343061" stroke-width="1.4"/>
<line x1="492.5225490607342" y1="1081.2736717790783" x2="492.5225490607342" y2="1087.7736717790783" stroke-width="1.4"/>
<line x1="495.5091343300851" y1="1081.2835284961388" x2="495.5091343300851" y2="1087.7835284961388" stroke-width="1.4"/>
<line x1="498.1434892361252" y1="1081.2922227367528" x2="498.1434892361252" y2="1087.7922227367528" stroke-width="1.4"/>
<line x1="500.5" y1="1081.3" x2="500.5" y2="1088.3" stroke-width="1.4"/>
<line x1="303.9331477762614" y1="1080.6512645141129" x2="303.9331477762614" y2="1087.1512645141129" stroke-width="1.4"/>
<line x1="313.0194567435346" y1="1080.6812523324868" x2="313.0194567435346" y2="1087.1812523324868" stroke-width="1.4"/>
<line x1="319.46629555252287" y1="1080.702529028226" x2="319.46629555252287" y2="1087.202529028226" stroke-width="1.4"/>
<line x1="324.46685222373856" y1="1080.7190325155898" x2="324.46685222373856" y2="1087.2190325155898" stroke-width="1.4"/>
<line x1="328.552604519796" y1="1080.7325168466" x2="328.552604519796" y2="1087.2325168466" stroke-width="1.4"/>
<line x1="332.00705886473565" y1="1080.743917686022" x2="332.00705886473565" y2="1087.243917686022" stroke-width="1.4"/>
<line x1="334.9994433287843" y1="1080.753793542339" x2="334.9994433287843" y2="1087.253793542339" stroke-width="1.4"/>
<line x1="337.63891348706915" y1="1080.7625046649737" x2="337.63891348706915" y2="1087.2625046649737" stroke-width="1.4"/>
<text stroke="#000" stroke-width="0.35" stroke-linejoin="round" transform="translate(276.78,873.46) rotate(-90)" font-size="12.5" textLength="20.16" lengthAdjust="spacingAndGlyphs">150</text>
<text stroke="#000" stroke-width="0.35" stroke-linejoin="round" transform="translate(276.38,1085.02) rotate(-90)" font-size="12" textLength="6.05" lengthAdjust="spacingAndGlyphs" font-weight="normal">0</text>
<text stroke="#000" stroke-width="0.35" stroke-linejoin="round" transform="translate(271.77,996.32) rotate(-90)" font-size="13" textLength="53.31" lengthAdjust="spacingAndGlyphs">COUNTS</text>
<text stroke="#000" stroke-width="0.35" stroke-linejoin="round" x="284.83" y="1100.50" font-size="12" textLength="11.91" lengthAdjust="spacingAndGlyphs">10</text>
<text stroke="#000" stroke-width="0.35" stroke-linejoin="round" x="297.68" y="1096.40" font-size="8">0</text>
<text stroke="#000" stroke-width="0.35" stroke-linejoin="round" x="334.30" y="1100.50" font-size="12" textLength="12.36" lengthAdjust="spacingAndGlyphs">10</text>
<text stroke="#000" stroke-width="0.35" stroke-linejoin="round" x="347.50" y="1096.40" font-size="8">1</text>
<text stroke="#000" stroke-width="0.35" stroke-linejoin="round" x="388.13" y="1100.50" font-size="12" textLength="11.91" lengthAdjust="spacingAndGlyphs">10</text>
<text stroke="#000" stroke-width="0.35" stroke-linejoin="round" x="400.92" y="1096.40" font-size="8">2</text>
<text stroke="#000" stroke-width="0.35" stroke-linejoin="round" x="442.33" y="1100.50" font-size="12" textLength="11.91" lengthAdjust="spacingAndGlyphs">10</text>
<text stroke="#000" stroke-width="0.35" stroke-linejoin="round" x="456.02" y="1096.40" font-size="8">3</text>
<text stroke="#000" stroke-width="0.35" stroke-linejoin="round" x="495.53" y="1100.50" font-size="12" textLength="11.91" lengthAdjust="spacingAndGlyphs">10</text>
<text stroke="#000" stroke-width="0.35" stroke-linejoin="round" x="508.58" y="1096.40" font-size="8">44</text>
<text stroke="#000" stroke-width="0.35" stroke-linejoin="round" x="363.10" y="868.60" font-size="27.5" textLength="39.38" lengthAdjust="spacingAndGlyphs">PB</text>
<text stroke="#000" stroke-width="0.35" stroke-linejoin="round" x="411.84" y="868.60" font-size="27.5" textLength="48.71" lengthAdjust="spacingAndGlyphs">day</text>
<text stroke="#000" stroke-width="0.35" stroke-linejoin="round" x="470.89" y="868.60" font-size="27.5" textLength="31.96" lengthAdjust="spacingAndGlyphs">14</text>
<text stroke="#000" stroke-width="0.35" stroke-linejoin="round" x="375.11" y="1121.20" font-size="13.5" textLength="45.98" lengthAdjust="spacingAndGlyphs">FL2-H</text>
<ellipse cx="42.8" cy="598.2" rx="2.8" ry="2.6" stroke="none"/>
<path d="M42.50,597.70 C43.62,601.22 47.12,612.75 49.20,618.80 C51.28,624.85 53.40,629.55 55.00,634.00 C56.60,638.45 57.83,643.75 58.80,645.50 C59.77,647.25 60.07,644.50 60.80,644.50 C61.53,644.50 62.50,643.37 63.20,645.50 C63.90,647.63 64.47,653.22 65.00,657.30 C65.53,661.38 65.97,666.38 66.40,670.00 C66.83,673.62 67.13,675.67 67.60,679.00 C68.07,682.33 68.58,686.63 69.20,690.00 C69.82,693.37 69.98,693.50 71.30,699.20 C72.62,704.90 75.55,716.07 77.10,724.20 C78.65,732.33 79.92,741.70 80.60,748.00 C81.28,754.30 80.72,758.17 81.20,762.00 C81.68,765.83 82.62,768.33 83.50,771.00 C84.38,773.67 85.42,775.67 86.50,778.00 C87.58,780.33 88.25,782.58 90.00,785.00 C91.75,787.42 94.33,790.20 97.00,792.50 C99.67,794.80 102.75,796.97 106.00,798.80 C109.25,800.63 112.08,802.27 116.50,803.50 C120.92,804.73 125.67,805.53 132.50,806.20 C139.33,806.87 149.58,806.87 157.50,807.50 C165.42,808.13 172.92,809.42 180.00,810.00 C187.08,810.58 196.67,810.83 200.00,811.00" stroke-width="1.2" fill="none"/>
<path d="M42.50,597.70 C42.98,600.58 44.28,610.52 45.40,615.00 C46.52,619.48 48.08,621.88 49.20,624.60 C50.32,627.32 51.55,627.77 52.10,631.30 C52.65,634.83 52.40,640.52 52.50,645.80 C52.60,651.08 52.28,657.23 52.70,663.00 C53.12,668.77 54.37,676.23 55.00,680.40 C55.63,684.57 56.33,685.18 56.50,688.00 C56.67,690.82 55.92,694.47 56.00,697.30 C56.08,700.13 56.53,702.27 57.00,705.00 C57.47,707.73 58.50,708.25 58.80,713.70 C59.10,719.15 58.52,731.48 58.80,737.70 C59.08,743.92 60.05,746.83 60.50,751.00 C60.95,755.17 61.00,759.53 61.50,762.70 C62.00,765.87 62.98,767.25 63.50,770.00 C64.02,772.75 63.85,776.70 64.60,779.20 C65.35,781.70 66.07,783.65 68.00,785.00 C69.93,786.35 73.50,786.13 76.20,787.30 C78.90,788.47 82.10,790.27 84.20,792.00 C86.30,793.73 86.67,795.98 88.80,797.70 C90.93,799.42 94.47,801.28 97.00,802.30 C99.53,803.32 101.83,804.02 104.00,803.80 C106.17,803.58 107.97,801.83 110.00,801.00 C112.03,800.17 114.12,798.97 116.20,798.80 C118.28,798.63 120.40,799.38 122.50,800.00 C124.60,800.62 126.52,801.87 128.80,802.50 C131.08,803.13 133.92,803.38 136.20,803.80 C138.48,804.22 139.37,804.80 142.50,805.00 C145.63,805.20 150.83,805.00 155.00,805.00 C159.17,805.00 163.75,804.50 167.50,805.00 C171.25,805.50 174.42,807.08 177.50,808.00 C180.58,808.92 184.58,810.08 186.00,810.50" stroke-width="3.2" fill="none" stroke-dasharray="0 6.3" stroke-linecap="round"/>
<path d="M42.50,597.70 C43.08,602.25 45.08,617.12 46.00,625.00 C46.92,632.88 47.33,638.33 48.00,645.00 C48.67,651.67 49.17,659.17 50.00,665.00 C50.83,670.83 52.00,674.17 53.00,680.00 C54.00,685.83 55.17,693.33 56.00,700.00 C56.83,706.67 57.33,712.50 58.00,720.00 C58.67,727.50 59.33,737.50 60.00,745.00 C60.67,752.50 61.17,759.17 62.00,765.00 C62.83,770.83 63.67,776.00 65.00,780.00 C66.33,784.00 68.17,787.08 70.00,789.00 C71.83,790.92 73.50,790.67 76.00,791.50 C78.50,792.33 81.83,793.33 85.00,794.00 C88.17,794.67 92.50,795.83 95.00,795.50 C97.50,795.17 98.17,793.00 100.00,792.00 C101.83,791.00 103.50,790.50 106.00,789.50 C108.50,788.50 111.83,786.83 115.00,786.00 C118.17,785.17 122.17,784.67 125.00,784.50 C127.83,784.33 129.50,784.25 132.00,785.00 C134.50,785.75 137.42,787.75 140.00,789.00 C142.58,790.25 145.00,791.13 147.50,792.50 C150.00,793.87 152.50,796.20 155.00,797.20 C157.50,798.20 160.33,797.37 162.50,798.50 C164.67,799.63 165.50,802.75 168.00,804.00 C170.50,805.25 174.17,805.08 177.50,806.00 C180.83,806.92 184.25,808.75 188.00,809.50 C191.75,810.25 193.00,810.37 200.00,810.50 C207.00,810.63 222.17,810.25 230.00,810.30 C237.83,810.35 244.17,810.72 247.00,810.80" stroke-width="2.2" fill="none" stroke-dasharray="7 4.5"/>
<path d="M42.50,597.70 C42.72,599.58 43.48,603.87 43.80,609.00 C44.12,614.13 44.20,622.05 44.40,628.50 C44.60,634.95 44.83,641.30 45.00,647.70 C45.17,654.10 45.02,661.77 45.40,666.90 C45.78,672.03 46.50,676.25 47.30,678.50 C48.10,680.75 49.25,681.20 50.20,680.40 C51.15,679.60 51.87,675.30 53.00,673.70 C54.13,672.10 55.55,670.97 57.00,670.80 C58.45,670.63 60.43,671.17 61.70,672.70 C62.97,674.23 63.47,677.12 64.60,680.00 C65.73,682.88 67.38,686.80 68.50,690.00 C69.62,693.20 69.87,693.50 71.30,699.20 C72.73,704.90 75.40,715.40 77.10,724.20 C78.80,733.00 80.60,746.03 81.50,752.00 C82.40,757.97 81.47,757.17 82.50,760.00 C83.53,762.83 85.87,765.83 87.70,769.00 C89.53,772.17 91.45,776.17 93.50,779.00 C95.55,781.83 97.88,784.17 100.00,786.00 C102.12,787.83 104.53,789.53 106.20,790.00 C107.87,790.47 108.53,789.63 110.00,788.80 C111.47,787.97 113.33,786.05 115.00,785.00 C116.67,783.95 118.50,782.70 120.00,782.50 C121.50,782.30 122.33,782.97 124.00,783.80 C125.67,784.63 128.00,786.67 130.00,787.50 C132.00,788.33 134.17,789.00 136.00,788.80 C137.83,788.60 139.50,787.13 141.00,786.30 C142.50,785.47 143.17,784.43 145.00,783.80 C146.83,783.17 150.42,783.97 152.00,782.50 C153.58,781.03 153.75,777.08 154.50,775.00 C155.25,772.92 155.58,771.25 156.50,770.00 C157.42,768.75 158.58,768.00 160.00,767.50 C161.42,767.00 163.33,766.67 165.00,767.00 C166.67,767.33 168.33,768.00 170.00,769.50 C171.67,771.00 173.33,773.42 175.00,776.00 C176.67,778.58 178.75,782.17 180.00,785.00 C181.25,787.83 181.47,791.13 182.50,793.00 C183.53,794.87 184.95,795.28 186.20,796.20 C187.45,797.12 188.70,797.53 190.00,798.50 C191.30,799.47 192.67,801.17 194.00,802.00 C195.33,802.83 196.58,803.28 198.00,803.50 C199.42,803.72 201.17,803.25 202.50,803.30 C203.83,803.35 204.75,803.18 206.00,803.80 C207.25,804.42 208.50,806.08 210.00,807.00 C211.50,807.92 212.50,808.80 215.00,809.30 C217.50,809.80 219.67,809.80 225.00,810.00 C230.33,810.20 243.33,810.42 247.00,810.50" stroke-width="3" fill="none" stroke-linejoin="round" stroke-linecap="round"/>
<ellipse cx="291.6" cy="602.3" rx="2.3" ry="3" stroke="none"/>
<path d="M292.00,602.30 C292.97,602.88 296.27,603.68 297.80,605.80 C299.33,607.92 300.25,610.77 301.20,615.00 C302.15,619.23 302.73,625.43 303.50,631.20 C304.27,636.97 305.10,643.47 305.80,649.60 C306.50,655.73 307.12,667.23 307.70,668.00 C308.28,668.77 308.45,659.20 309.30,654.20 C310.15,649.20 311.45,642.42 312.80,638.00 C314.15,633.58 316.25,628.45 317.40,627.70 C318.55,626.95 318.85,629.45 319.70,633.50 C320.55,637.55 321.73,646.82 322.50,652.00 C323.27,657.18 323.42,663.07 324.30,664.60 C325.18,666.13 326.85,661.20 327.80,661.20 C328.75,661.20 329.05,659.63 330.00,664.60 C330.95,669.57 332.42,682.93 333.50,691.00 C334.58,699.07 335.22,705.50 336.50,713.00 C337.78,720.50 339.65,728.67 341.20,736.00 C342.75,743.33 344.67,752.37 345.80,757.00 C346.93,761.63 347.23,762.30 348.00,763.80 C348.77,765.30 349.62,763.68 350.40,766.00 C351.18,768.32 351.73,774.20 352.70,777.70 C353.67,781.20 355.05,784.50 356.20,787.00 C357.35,789.50 357.68,791.17 359.60,792.70 C361.52,794.23 364.80,795.05 367.70,796.20 C370.60,797.35 373.53,798.47 377.00,799.60 C380.47,800.73 384.67,802.03 388.50,803.00 C392.33,803.97 395.58,804.65 400.00,805.40 C404.42,806.15 410.42,806.73 415.00,807.50 C419.58,808.27 423.33,809.33 427.50,810.00 C431.67,810.67 437.92,811.25 440.00,811.50" stroke-width="1.2" fill="none"/>
<path d="M296.60,597.70 C296.60,600.20 296.20,606.73 296.60,612.70 C297.00,618.67 298.03,627.73 299.00,633.50 C299.97,639.27 301.65,643.08 302.40,647.30 C303.15,651.52 303.32,654.57 303.50,658.80 C303.68,663.03 303.50,668.47 303.50,672.70 C303.50,676.93 303.30,679.98 303.50,684.20 C303.70,688.42 304.28,693.70 304.70,698.00 C305.12,702.30 305.45,705.50 306.00,710.00 C306.55,714.50 307.33,719.17 308.00,725.00 C308.67,730.83 309.33,738.33 310.00,745.00 C310.67,751.67 311.23,758.78 312.00,765.00 C312.77,771.22 313.20,778.27 314.60,782.30 C316.00,786.33 318.87,787.28 320.40,789.20 C321.93,791.12 321.70,792.83 323.80,793.80 C325.90,794.77 329.53,794.42 333.00,795.00 C336.47,795.58 340.73,797.10 344.60,797.30 C348.47,797.50 352.35,796.20 356.20,796.20 C360.05,796.20 363.87,796.53 367.70,797.30 C371.53,798.07 375.35,799.85 379.20,800.80 C383.05,801.75 387.72,802.43 390.80,803.00 C393.88,803.57 394.50,803.78 397.70,804.20 C400.90,804.62 405.03,804.95 410.00,805.50 C414.97,806.05 423.50,806.67 427.50,807.50 C431.50,808.33 432.92,810.00 434.00,810.50" stroke-width="3.2" fill="none" stroke-dasharray="0 6.3" stroke-linecap="round"/>
<path d="M292.00,601.00 C292.43,603.67 294.02,612.00 294.60,617.00 C295.18,622.00 295.13,625.17 295.50,631.00 C295.87,636.83 296.43,645.50 296.80,652.00 C297.17,658.50 297.33,663.67 297.70,670.00 C298.07,676.33 298.45,683.20 299.00,690.00 C299.55,696.80 300.33,703.88 301.00,710.80 C301.67,717.72 302.27,726.30 303.00,731.50 C303.73,736.70 304.23,736.25 305.40,742.00 C306.57,747.75 308.85,760.43 310.00,766.00 C311.15,771.57 311.13,772.30 312.30,775.40 C313.47,778.50 315.22,782.92 317.00,784.60 C318.78,786.28 320.90,785.88 323.00,785.50 C325.10,785.12 327.53,783.47 329.60,782.30 C331.67,781.13 333.50,778.63 335.40,778.50 C337.30,778.37 339.07,780.48 341.00,781.50 C342.93,782.52 344.87,785.62 347.00,784.60 C349.13,783.58 351.50,778.50 353.80,775.40 C356.10,772.30 358.87,768.32 360.80,766.00 C362.73,763.68 363.48,762.92 365.40,761.50 C367.32,760.08 370.37,758.33 372.30,757.50 C374.23,756.67 374.72,756.78 377.00,756.50 C379.28,756.22 383.70,756.30 386.00,755.80 C388.30,755.30 388.88,753.63 390.80,753.50 C392.72,753.37 395.77,753.08 397.50,755.00 C399.23,756.92 399.95,761.67 401.20,765.00 C402.45,768.33 403.12,771.67 405.00,775.00 C406.88,778.33 409.58,782.08 412.50,785.00 C415.42,787.92 419.17,790.00 422.50,792.50 C425.83,795.00 429.58,797.92 432.50,800.00 C435.42,802.08 437.08,803.75 440.00,805.00 C442.92,806.25 447.50,806.67 450.00,807.50 C452.50,808.33 453.00,809.28 455.00,810.00 C457.00,810.72 460.83,811.50 462.00,811.80" stroke-width="2.2" fill="none" stroke-dasharray="7 4.5"/>
<path d="M291.50,601.00 C291.63,604.17 291.83,611.13 292.30,620.00 C292.77,628.87 293.77,644.65 294.30,654.20 C294.83,663.75 295.12,670.75 295.50,677.30 C295.88,683.85 295.92,689.08 296.60,693.50 C297.28,697.92 298.13,700.55 299.60,703.80 C301.07,707.05 303.87,709.92 305.40,713.00 C306.93,716.08 307.83,717.30 308.80,722.30 C309.77,727.30 310.23,736.85 311.20,743.00 C312.17,749.15 313.07,754.20 314.60,759.20 C316.13,764.20 318.67,769.15 320.40,773.00 C322.13,776.85 323.27,779.80 325.00,782.30 C326.73,784.80 328.30,786.47 330.80,788.00 C333.30,789.53 336.55,790.53 340.00,791.50 C343.45,792.47 348.03,793.80 351.50,793.80 C354.97,793.80 357.72,792.07 360.80,791.50 C363.88,790.93 367.30,791.55 370.00,790.40 C372.70,789.25 374.30,785.95 377.00,784.60 C379.70,783.25 383.13,783.27 386.20,782.30 C389.27,781.33 393.10,779.60 395.40,778.80 C397.70,778.00 398.20,778.33 400.00,777.50 C401.80,776.67 404.33,775.88 406.20,773.80 C408.07,771.72 409.73,768.55 411.20,765.00 C412.67,761.45 413.73,756.67 415.00,752.50 C416.27,748.33 417.55,744.17 418.80,740.00 C420.05,735.83 421.05,731.67 422.50,727.50 C423.95,723.33 426.05,718.75 427.50,715.00 C428.95,711.25 430.03,706.92 431.20,705.00 C432.37,703.08 433.45,703.08 434.50,703.50 C435.55,703.92 436.38,704.33 437.50,707.50 C438.62,710.67 439.95,717.08 441.20,722.50 C442.45,727.92 443.53,735.00 445.00,740.00 C446.47,745.00 448.13,748.75 450.00,752.50 C451.87,756.25 454.53,758.75 456.20,762.50 C457.87,766.25 458.73,771.25 460.00,775.00 C461.27,778.75 462.13,782.70 463.80,785.00 C465.47,787.30 468.13,787.55 470.00,788.80 C471.87,790.05 472.92,791.47 475.00,792.50 C477.08,793.53 480.20,793.55 482.50,795.00 C484.80,796.45 486.72,799.33 488.80,801.20 C490.88,803.07 493.13,804.48 495.00,806.20 C496.87,807.92 499.17,810.62 500.00,811.50" stroke-width="3" fill="none" stroke-linejoin="round" stroke-linecap="round"/>
<path d="M38.50,863.20 C38.33,865.67 37.77,871.87 37.50,878.00 C37.23,884.13 36.98,892.93 36.90,900.00 C36.82,907.07 36.02,917.32 37.00,920.40 C37.98,923.48 41.27,919.95 42.80,918.50 C44.33,917.05 45.00,913.95 46.20,911.70 C47.40,909.45 48.73,906.52 50.00,905.00 C51.27,903.48 52.52,903.32 53.80,902.60 C55.08,901.88 56.57,901.58 57.70,900.70 C58.83,899.82 59.63,898.32 60.60,897.30 C61.57,896.28 62.70,894.60 63.50,894.60 C64.30,894.60 64.77,894.93 65.40,897.30 C66.03,899.67 66.67,903.98 67.30,908.80 C67.93,913.62 68.50,921.25 69.20,926.20 C69.90,931.15 70.40,935.03 71.50,938.50 C72.60,941.97 74.55,941.37 75.80,947.00 C77.05,952.63 78.13,963.85 79.00,972.30 C79.87,980.75 80.30,989.95 81.00,997.70 C81.70,1005.45 81.95,1013.32 83.20,1018.80 C84.45,1024.28 86.57,1027.05 88.50,1030.60 C90.43,1034.15 92.87,1037.28 94.80,1040.10 C96.73,1042.92 98.52,1045.03 100.10,1047.50 C101.68,1049.97 102.72,1052.60 104.30,1054.90 C105.88,1057.20 107.32,1059.53 109.60,1061.30 C111.88,1063.07 115.18,1064.10 118.00,1065.50 C120.82,1066.90 123.67,1068.47 126.50,1069.70 C129.33,1070.93 130.25,1071.82 135.00,1072.90 C139.75,1073.98 148.33,1075.22 155.00,1076.20 C161.67,1077.18 167.50,1078.17 175.00,1078.80 C182.50,1079.43 195.83,1079.80 200.00,1080.00" stroke-width="1.2" fill="none"/>
<path d="M39.00,863.20 C39.42,865.17 40.95,868.87 41.50,875.00 C42.05,881.13 42.05,892.50 42.30,900.00 C42.55,907.50 42.53,914.30 43.00,920.00 C43.47,925.70 44.57,929.53 45.10,934.20 C45.63,938.87 45.50,944.47 46.20,948.00 C46.90,951.53 48.60,952.93 49.30,955.40 C50.00,957.87 50.05,960.52 50.40,962.80 C50.75,965.08 51.05,966.98 51.40,969.10 C51.75,971.22 52.07,972.02 52.50,975.50 C52.93,978.98 53.45,984.92 54.00,990.00 C54.55,995.08 55.13,999.08 55.80,1006.00 C56.47,1012.92 57.05,1026.08 58.00,1031.50 C58.95,1036.92 60.33,1036.18 61.50,1038.50 C62.67,1040.82 62.78,1043.38 65.00,1045.40 C67.22,1047.42 72.10,1050.03 74.80,1050.60 C77.50,1051.17 78.92,1048.27 81.20,1048.80 C83.48,1049.33 86.58,1052.45 88.50,1053.80 C90.42,1055.15 91.12,1056.20 92.70,1056.90 C94.28,1057.60 95.53,1057.82 98.00,1058.00 C100.47,1058.18 103.80,1058.70 107.50,1058.00 C111.20,1057.30 117.03,1054.32 120.20,1053.80 C123.37,1053.28 124.03,1054.20 126.50,1054.90 C128.97,1055.60 131.92,1056.32 135.00,1058.00 C138.08,1059.68 141.67,1063.20 145.00,1065.00 C148.33,1066.80 151.25,1067.55 155.00,1068.80 C158.75,1070.05 163.33,1071.67 167.50,1072.50 C171.67,1073.33 176.25,1073.18 180.00,1073.80 C183.75,1074.42 187.08,1075.37 190.00,1076.20 C192.92,1077.03 196.25,1078.37 197.50,1078.80" stroke-width="3.2" fill="none" stroke-dasharray="0 6.3" stroke-linecap="round"/>
<path d="M38.50,863.20 C38.83,866.00 40.05,873.87 40.50,880.00 C40.95,886.13 40.92,893.33 41.20,900.00 C41.48,906.67 41.82,914.17 42.20,920.00 C42.58,925.83 43.03,929.17 43.50,935.00 C43.97,940.83 44.30,946.42 45.00,955.00 C45.70,963.58 46.97,979.90 47.70,986.50 C48.43,993.10 48.82,990.55 49.40,994.60 C49.98,998.65 50.62,1005.03 51.20,1010.80 C51.78,1016.57 52.43,1023.63 52.90,1029.20 C53.37,1034.77 53.57,1040.32 54.00,1044.20 C54.43,1048.08 54.43,1050.00 55.50,1052.50 C56.57,1055.00 58.33,1057.78 60.40,1059.20 C62.47,1060.62 65.80,1060.78 67.90,1061.00 C70.00,1061.22 70.60,1061.50 73.00,1060.50 C75.40,1059.50 79.60,1056.17 82.30,1055.00 C85.00,1053.83 86.77,1054.40 89.20,1053.50 C91.63,1052.60 94.20,1051.30 96.90,1049.60 C99.60,1047.90 102.93,1045.40 105.40,1043.30 C107.87,1041.20 109.93,1039.67 111.70,1037.00 C113.47,1034.33 114.58,1031.03 116.00,1027.30 C117.42,1023.57 118.45,1017.77 120.20,1014.60 C121.95,1011.43 124.37,1010.82 126.50,1008.30 C128.63,1005.78 131.42,1000.72 133.00,999.50 C134.58,998.28 134.63,999.25 136.00,1001.00 C137.37,1002.75 139.50,1006.42 141.20,1010.00 C142.90,1013.58 144.32,1018.33 146.20,1022.50 C148.08,1026.67 150.40,1030.83 152.50,1035.00 C154.60,1039.17 156.72,1043.33 158.80,1047.50 C160.88,1051.67 162.93,1057.28 165.00,1060.00 C167.07,1062.72 168.70,1062.13 171.20,1063.80 C173.70,1065.47 176.87,1068.13 180.00,1070.00 C183.13,1071.87 186.67,1073.53 190.00,1075.00 C193.33,1076.47 198.33,1078.17 200.00,1078.80" stroke-width="2.2" fill="none" stroke-dasharray="7 4.5"/>
<path d="M38.50,863.20 C38.63,866.00 39.08,873.87 39.30,880.00 C39.52,886.13 39.63,893.33 39.80,900.00 C39.97,906.67 40.10,914.30 40.30,920.00 C40.50,925.70 40.72,930.03 41.00,934.20 C41.28,938.37 41.50,941.53 42.00,945.00 C42.50,948.47 43.25,951.53 44.00,955.00 C44.75,958.47 45.60,962.08 46.50,965.80 C47.40,969.52 48.43,973.47 49.40,977.30 C50.37,981.13 51.43,984.95 52.30,988.80 C53.17,992.65 53.83,996.55 54.60,1000.40 C55.37,1004.25 56.22,1008.05 56.90,1011.90 C57.58,1015.75 58.22,1020.23 58.70,1023.50 C59.18,1026.77 59.03,1029.00 59.80,1031.50 C60.57,1034.00 62.23,1036.18 63.30,1038.50 C64.37,1040.82 65.25,1043.10 66.20,1045.40 C67.15,1047.70 67.87,1050.20 69.00,1052.30 C70.13,1054.40 71.37,1056.65 73.00,1058.00 C74.63,1059.35 76.48,1059.62 78.80,1060.40 C81.12,1061.18 84.20,1062.03 86.90,1062.70 C89.60,1063.37 92.98,1064.08 95.00,1064.40 C97.02,1064.72 97.45,1064.77 99.00,1064.60 C100.55,1064.43 102.70,1064.32 104.30,1063.40 C105.90,1062.48 107.02,1060.87 108.60,1059.10 C110.18,1057.33 111.87,1054.38 113.80,1052.80 C115.73,1051.22 117.72,1050.30 120.20,1049.60 C122.68,1048.90 125.82,1049.03 128.70,1048.60 C131.58,1048.17 134.98,1048.85 137.50,1047.00 C140.02,1045.15 141.92,1041.58 143.80,1037.50 C145.68,1033.42 147.35,1027.92 148.80,1022.50 C150.25,1017.08 151.47,1010.83 152.50,1005.00 C153.53,999.17 153.95,992.08 155.00,987.50 C156.05,982.92 157.33,979.58 158.80,977.50 C160.27,975.42 162.35,975.00 163.80,975.00 C165.25,975.00 166.47,975.00 167.50,977.50 C168.53,980.00 168.95,985.42 170.00,990.00 C171.05,994.58 172.55,1000.83 173.80,1005.00 C175.05,1009.17 176.47,1011.67 177.50,1015.00 C178.53,1018.33 178.95,1021.67 180.00,1025.00 C181.05,1028.33 182.77,1031.67 183.80,1035.00 C184.83,1038.33 184.97,1041.67 186.20,1045.00 C187.43,1048.33 188.90,1051.87 191.20,1055.00 C193.50,1058.13 196.87,1061.30 200.00,1063.80 C203.13,1066.30 206.25,1067.93 210.00,1070.00 C213.75,1072.07 219.17,1074.73 222.50,1076.20 C225.83,1077.67 227.08,1078.17 230.00,1078.80 C232.92,1079.43 238.33,1079.80 240.00,1080.00" stroke-width="3" fill="none" stroke-linejoin="round" stroke-linecap="round"/>
<path d="M291.00,865.00 C291.17,872.50 291.20,900.42 292.00,910.00 C292.80,919.58 294.55,919.80 295.80,922.50 C297.05,925.20 297.83,926.20 299.50,926.20 C301.17,926.20 304.35,924.57 305.80,922.50 C307.25,920.43 307.17,916.08 308.20,913.80 C309.23,911.52 310.53,909.02 312.00,908.80 C313.47,908.58 315.53,909.80 317.00,912.50 C318.47,915.20 319.55,919.58 320.80,925.00 C322.05,930.42 323.47,938.33 324.50,945.00 C325.53,951.67 326.33,958.33 327.00,965.00 C327.67,971.67 327.80,979.00 328.50,985.00 C329.20,991.00 330.08,996.33 331.20,1001.00 C332.32,1005.67 334.07,1009.17 335.20,1013.00 C336.33,1016.83 337.28,1020.50 338.00,1024.00 C338.72,1027.50 338.62,1031.17 339.50,1034.00 C340.38,1036.83 342.00,1038.92 343.30,1041.00 C344.60,1043.08 345.85,1044.83 347.30,1046.50 C348.75,1048.17 349.88,1049.13 352.00,1051.00 C354.12,1052.87 357.52,1055.72 360.00,1057.70 C362.48,1059.68 364.98,1061.18 366.90,1062.90 C368.82,1064.62 369.38,1065.98 371.50,1068.00 C373.62,1070.02 376.93,1073.20 379.60,1075.00 C382.27,1076.80 384.93,1077.97 387.50,1078.80 C390.07,1079.63 393.75,1079.80 395.00,1080.00" stroke-width="1.2" fill="none"/>
<path d="M290.50,865.00 C290.75,866.67 291.55,870.00 292.00,875.00 C292.45,880.00 292.57,889.17 293.20,895.00 C293.83,900.83 294.97,905.42 295.80,910.00 C296.63,914.58 297.58,918.33 298.20,922.50 C298.82,926.67 298.87,930.42 299.50,935.00 C300.13,939.58 301.17,945.42 302.00,950.00 C302.83,954.58 303.67,957.92 304.50,962.50 C305.33,967.08 306.17,972.92 307.00,977.50 C307.83,982.08 308.83,986.58 309.50,990.00 C310.17,993.42 310.53,995.42 311.00,998.00 C311.47,1000.58 311.63,1003.25 312.30,1005.50 C312.97,1007.75 313.88,1009.37 315.00,1011.50 C316.12,1013.63 317.88,1016.22 319.00,1018.30 C320.12,1020.38 320.12,1022.78 321.70,1024.00 C323.28,1025.22 326.25,1025.33 328.50,1025.60 C330.75,1025.87 333.18,1025.25 335.20,1025.60 C337.22,1025.95 339.25,1026.23 340.60,1027.70 C341.95,1029.17 342.18,1032.38 343.30,1034.40 C344.42,1036.42 345.68,1038.53 347.30,1039.80 C348.92,1041.07 350.88,1041.33 353.00,1042.00 C355.12,1042.67 357.78,1043.10 360.00,1043.80 C362.22,1044.50 364.28,1045.23 366.30,1046.20 C368.32,1047.17 370.27,1048.27 372.10,1049.60 C373.93,1050.93 375.57,1052.57 377.30,1054.20 C379.03,1055.83 380.77,1057.77 382.50,1059.40 C384.23,1061.03 385.78,1062.55 387.70,1064.00 C389.62,1065.45 391.88,1066.85 394.00,1068.10 C396.12,1069.35 398.28,1070.63 400.40,1071.50 C402.52,1072.37 404.48,1072.80 406.70,1073.30 C408.92,1073.80 411.48,1074.02 413.70,1074.50 C415.92,1074.98 417.28,1075.48 420.00,1076.20 C422.72,1076.92 426.67,1078.17 430.00,1078.80 C433.33,1079.43 438.33,1079.80 440.00,1080.00" stroke-width="3.2" fill="none" stroke-dasharray="0 6.3" stroke-linecap="round"/>
<path d="M290.80,865.00 C291.03,870.00 291.93,882.50 292.20,895.00 C292.47,907.50 292.43,926.67 292.40,940.00 C292.37,953.33 292.02,965.00 292.00,975.00 C291.98,985.00 291.63,993.92 292.30,1000.00 C292.97,1006.08 294.72,1008.33 296.00,1011.50 C297.28,1014.67 299.03,1016.42 300.00,1019.00 C300.97,1021.58 301.10,1024.33 301.80,1027.00 C302.50,1029.67 303.12,1032.17 304.20,1035.00 C305.28,1037.83 307.08,1041.33 308.30,1044.00 C309.52,1046.67 310.17,1048.83 311.50,1051.00 C312.83,1053.17 314.15,1056.00 316.30,1057.00 C318.45,1058.00 321.70,1057.17 324.40,1057.00 C327.10,1056.83 330.48,1057.17 332.50,1056.00 C334.52,1054.83 334.70,1051.80 336.50,1050.00 C338.30,1048.20 341.05,1046.28 343.30,1045.20 C345.55,1044.12 348.13,1044.37 350.00,1043.50 C351.87,1042.63 353.03,1041.83 354.50,1040.00 C355.97,1038.17 357.25,1035.83 358.80,1032.50 C360.35,1029.17 362.13,1024.58 363.80,1020.00 C365.47,1015.42 367.35,1010.00 368.80,1005.00 C370.25,1000.00 371.27,995.17 372.50,990.00 C373.73,984.83 375.20,978.33 376.20,974.00 C377.20,969.67 377.37,965.95 378.50,964.00 C379.63,962.05 381.67,962.55 383.00,962.30 C384.33,962.05 385.50,961.72 386.50,962.50 C387.50,963.28 387.75,964.75 389.00,967.00 C390.25,969.25 392.42,973.00 394.00,976.00 C395.58,979.00 397.05,981.00 398.50,985.00 C399.95,989.00 401.23,996.50 402.70,1000.00 C404.17,1003.50 405.95,1003.50 407.30,1006.00 C408.65,1008.50 409.73,1012.17 410.80,1015.00 C411.87,1017.83 412.75,1019.92 413.70,1023.00 C414.65,1026.08 415.73,1030.03 416.50,1033.50 C417.27,1036.97 417.80,1040.55 418.30,1043.80 C418.80,1047.05 418.80,1050.30 419.50,1053.00 C420.20,1055.70 420.75,1058.00 422.50,1060.00 C424.25,1062.00 427.28,1063.33 430.00,1065.00 C432.72,1066.67 435.88,1068.33 438.80,1070.00 C441.72,1071.67 444.38,1073.33 447.50,1075.00 C450.62,1076.67 455.83,1079.17 457.50,1080.00" stroke-width="2.2" fill="none" stroke-dasharray="7 4.5"/>
<path d="M290.50,865.00 C290.50,879.17 290.38,929.17 290.50,950.00 C290.62,970.83 290.87,980.00 291.20,990.00 C291.53,1000.00 292.03,1004.17 292.50,1010.00 C292.97,1015.83 293.58,1021.42 294.00,1025.00 C294.42,1028.58 294.42,1030.67 295.00,1031.50 C295.58,1032.33 296.63,1030.63 297.50,1030.00 C298.37,1029.37 299.08,1027.63 300.20,1027.70 C301.32,1027.77 302.85,1029.28 304.20,1030.40 C305.55,1031.52 306.95,1032.62 308.30,1034.40 C309.65,1036.18 310.97,1039.08 312.30,1041.10 C313.63,1043.12 314.95,1044.92 316.30,1046.50 C317.65,1048.08 319.05,1049.70 320.40,1050.60 C321.75,1051.50 323.28,1051.23 324.40,1051.90 C325.52,1052.57 326.20,1053.48 327.10,1054.60 C328.00,1055.72 328.68,1057.25 329.80,1058.60 C330.92,1059.95 332.45,1061.60 333.80,1062.70 C335.15,1063.80 336.32,1064.87 337.90,1065.20 C339.48,1065.53 341.28,1065.12 343.30,1064.70 C345.32,1064.28 348.05,1062.98 350.00,1062.70 C351.95,1062.42 353.33,1062.97 355.00,1063.00 C356.67,1063.03 358.20,1062.92 360.00,1062.90 C361.80,1062.88 363.88,1063.38 365.80,1062.90 C367.72,1062.42 369.58,1061.25 371.50,1060.00 C373.42,1058.75 375.37,1056.55 377.30,1055.40 C379.23,1054.25 381.47,1054.07 383.10,1053.10 C384.73,1052.13 386.15,1051.15 387.10,1049.60 C388.05,1048.05 388.32,1046.10 388.80,1043.80 C389.28,1041.50 389.32,1038.10 390.00,1035.80 C390.68,1033.50 392.03,1032.13 392.90,1030.00 C393.77,1027.87 394.53,1026.08 395.20,1023.00 C395.87,1019.92 396.52,1015.33 396.90,1011.50 C397.28,1007.67 397.05,1003.25 397.50,1000.00 C397.95,996.75 398.85,997.00 399.60,992.00 C400.35,987.00 401.03,977.67 402.00,970.00 C402.97,962.33 404.40,954.33 405.40,946.00 C406.40,937.67 407.07,927.67 408.00,920.00 C408.93,912.33 410.07,906.17 411.00,900.00 C411.93,893.83 412.73,886.53 413.60,883.00 C414.47,879.47 415.33,877.63 416.20,878.80 C417.07,879.97 417.97,885.22 418.80,890.00 C419.63,894.78 420.17,901.67 421.20,907.50 C422.23,913.33 423.73,918.75 425.00,925.00 C426.27,931.25 427.77,938.33 428.80,945.00 C429.83,951.67 430.37,957.92 431.20,965.00 C432.03,972.08 432.75,980.83 433.80,987.50 C434.85,994.17 436.27,1000.00 437.50,1005.00 C438.73,1010.00 440.15,1013.75 441.20,1017.50 C442.25,1021.25 442.33,1024.58 443.80,1027.50 C445.27,1030.42 447.93,1032.50 450.00,1035.00 C452.07,1037.50 454.33,1039.58 456.20,1042.50 C458.07,1045.42 459.53,1049.38 461.20,1052.50 C462.87,1055.62 463.90,1059.12 466.20,1061.20 C468.50,1063.28 472.28,1063.53 475.00,1065.00 C477.72,1066.47 480.00,1068.53 482.50,1070.00 C485.00,1071.47 487.72,1072.77 490.00,1073.80 C492.28,1074.83 494.53,1075.17 496.20,1076.20 C497.87,1077.23 499.37,1079.37 500.00,1080.00" stroke-width="3" fill="none" stroke-linejoin="round" stroke-linecap="round"/>
</svg>
</body></html>
